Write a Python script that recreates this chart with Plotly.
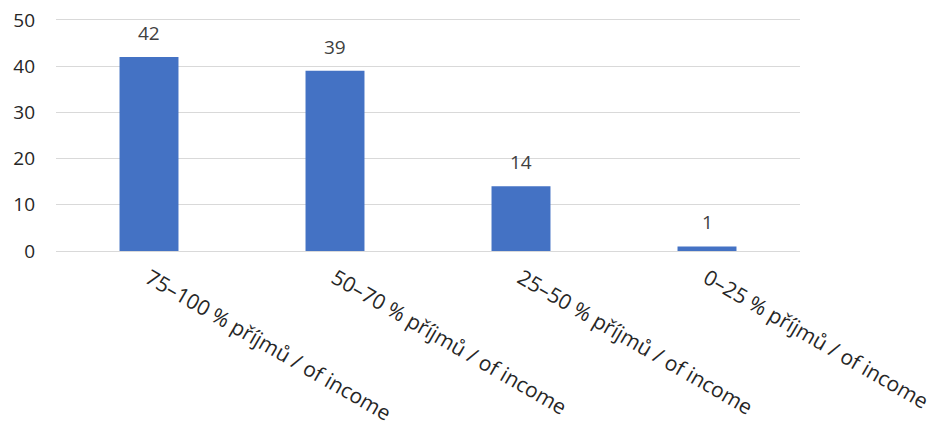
import plotly.graph_objects as go

categories = ["75–100 % příjmů / of income", "50–70 % příjmů / of income",
              "25–50 % příjmů / of income", "0–25 % příjmů / of income"]
values = [42, 39, 14, 1]
y_ticks = [0, 10, 20, 30, 40, 50]

FONT = "Open Sans"

fig = go.Figure()
fig.add_trace(go.Bar(x=categories, y=values, marker_color="#4472C4",
                     marker_line_width=0, width=0.317))

for c, v in zip(categories, values):
    fig.add_annotation(x=c, y=v, text=str(v), showarrow=False, yanchor="bottom",
                       yshift=9, font=dict(family=FONT, size=19, color="#404040"))

fig.update_layout(
    width=939, height=427, autosize=False,
    margin=dict(l=56, r=139, t=20, b=176),
    plot_bgcolor="white", paper_bgcolor="white",
    showlegend=False,
    font=dict(family=FONT, size=19, color="#262626"),
)
fig.update_yaxes(range=[0, 50], tickvals=y_ticks, showgrid=True, gridcolor="#d9d9d9",
                 gridwidth=1, zeroline=False, showline=False, ticks="", automargin=False,
                 ticklabelstandoff=20, tickfont=dict(family=FONT, size=19, color="#262626"))
fig.update_xaxes(showline=True, mirror=True, linecolor="#d9d9d9", linewidth=1, ticks="",
                 automargin=False, ticklabelstandoff=6,
                 tickangle=30, tickfont=dict(family=FONT, size=21, color="#262626"))

fig.write_html("out.html")
